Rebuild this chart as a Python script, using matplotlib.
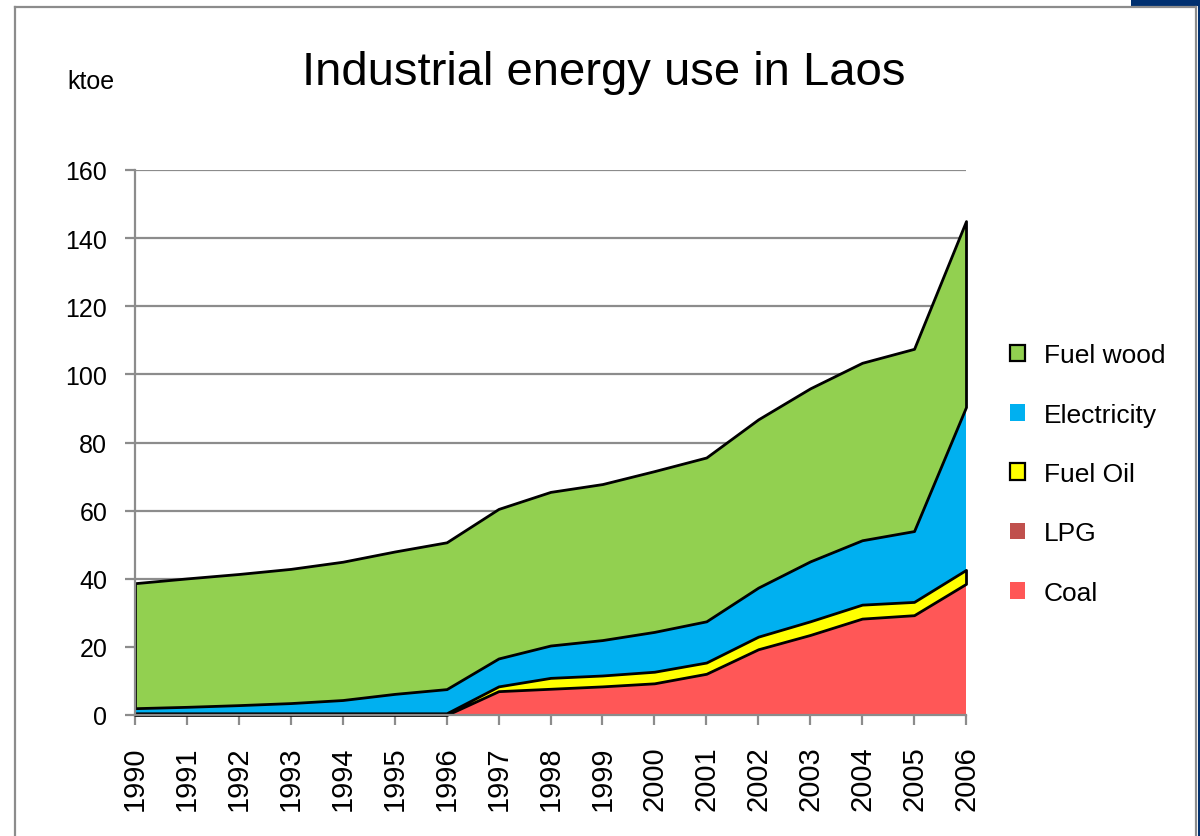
import numpy as np
import matplotlib
matplotlib.use('Agg')
import matplotlib.pyplot as plt
from matplotlib.patches import Patch, Rectangle
from matplotlib.lines import Line2D

plt.rcParams['font.family'] = ['Liberation Sans', 'DejaVu Sans']

years = list(range(1990, 2007))

# values in ktoe (layer thickness, stacked bottom->top)
coal = [0, 0, 0, 0, 0, 0, 0, 7.0, 7.7, 8.4, 9.3, 12.1, 19.3, 23.5, 28.3, 29.3, 38.5]
lpg = [0] * 17
fuel_oil = [0.5, 0.5, 0.5, 0.5, 0.5, 0.5, 0.5, 1.4, 3.2, 3.2, 3.4, 3.3, 3.7, 4.0, 4.1, 3.9, 4.1]
electricity = [1.5, 1.9, 2.4, 3.0, 3.9, 5.7, 7.1, 8.2, 9.5, 10.4, 11.7, 12.1, 14.4, 17.6, 18.9, 20.8, 47.8]
fuel_wood = [36.7, 37.7, 38.5, 39.4, 40.6, 41.8, 43.1, 43.9, 45.1, 45.8, 47.2, 48.1, 49.4, 50.8, 52.1, 53.5, 54.6]

labels = ['Coal', 'LPG', 'Fuel Oil', 'Electricity', 'Fuel wood']
colors = ['#FF5757', '#C0504D', '#FFFF00', '#00B0F0', '#92D050']
outlined = [False, False, True, False, True]

W, H = 1200, 837
fig = plt.figure(figsize=(12, 8.37), dpi=100)

# slide frame
grey = '#8c8c8c'
fig.add_artist(Line2D([15 / W, 1196 / W], [1 - 8 / H, 1 - 8 / H], color=grey, lw=1.6))
fig.add_artist(Line2D([15 / W, 15 / W], [0, 1 - 8 / H], color=grey, lw=1.6))
fig.add_artist(Line2D([1196 / W, 1196 / W], [0, 1 - 8 / H], color=grey, lw=1.6))
fig.add_artist(Rectangle((1131 / W, 1 - 7 / H), 69 / W, 7 / H, color='#003070', lw=0))
fig.add_artist(Rectangle((1197.5 / W, 0), 2.5 / W, 1 - 7 / H, color='#003070', lw=0))

ax = fig.add_axes([135 / W, (H - 716) / H, (966 - 135) / W, (716 - 171) / H])

polys = ax.stackplot(years, coal, lpg, fuel_oil, electricity, fuel_wood,
                     colors=colors, labels=labels)
for p, edge in zip(polys, outlined):
    if edge:
        p.set_edgecolor('black')
        p.set_linewidth(2)
        p.set_zorder(3)
        p.set_clip_on(False)
    else:
        p.set_edgecolor('none')
        p.set_linewidth(0)
        p.set_zorder(2)

ax.set_xlim(1990, 2006)
ax.set_ylim(0, 160)
ax.set_yticks(range(0, 161, 20))
ax.set_xticks(years)
ax.set_xticklabels([str(y) for y in years], rotation=90, fontsize=21)
ax.yaxis.grid(True, color=grey, lw=1.6)
ax.set_axisbelow(True)

for s in ['top', 'right']:
    ax.spines[s].set_visible(False)
for s in ['left', 'bottom']:
    ax.spines[s].set_color(grey)
    ax.spines[s].set_linewidth(1.6)
    ax.spines[s].set_zorder(4)
ax.tick_params(axis='y', direction='out', length=7, width=1.6, color=grey,
               labelsize=18, pad=13)
ax.tick_params(axis='x', direction='out', length=7, width=1.6, color=grey,
               pad=15)

fig.text(604 / W, 1 - 73 / H, 'Industrial energy use in Laos',
         fontsize=34, ha='center', va='center')
fig.text(91 / W, 1 - 82 / H, 'ktoe', fontsize=18, ha='center', va='center')

handles = []
for lab, c, edge in zip(labels, colors, outlined):
    handles.append(Patch(facecolor=c, edgecolor='black' if edge else c,
                         linewidth=1.6 if edge else 0, label=lab))
fig.legend(handles[::-1], labels[::-1], loc='center left',
           bbox_to_anchor=(1010 / W, 1 - 475 / H), frameon=False,
           fontsize=19, handlelength=0.58, handleheight=0.58,
           handletextpad=0.7, labelspacing=1.34, borderpad=0, borderaxespad=0)

fig.savefig('out.png', dpi=100)
